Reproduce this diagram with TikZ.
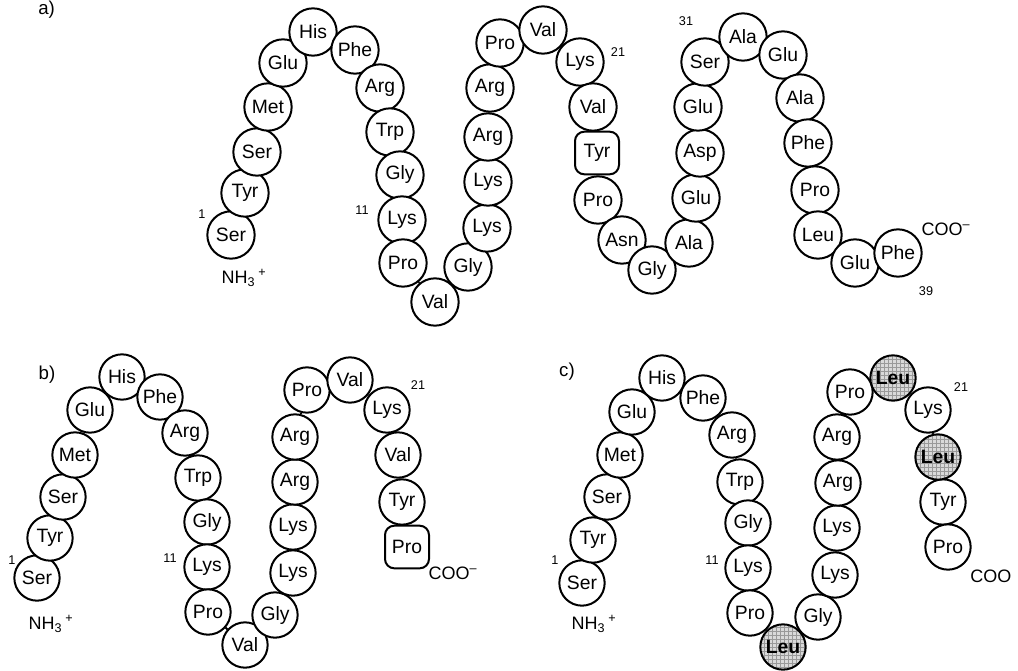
\documentclass[tikz,border=0pt]{standalone}
\usepackage{fontspec}
\setmainfont{Liberation Sans}
\usetikzlibrary{patterns,backgrounds}
\begin{document}
\begin{tikzpicture}[x=0.75pt,y=-0.75pt,
  res/.style={circle,draw,line width=1.5pt,fill=white,inner sep=0pt,minimum size=35.5pt,font=\fontsize{14.5}{14.5}\selectfont},
  resb/.style={res,minimum size=34pt},
  boxres/.style={rectangle,rounded corners=7pt,draw,line width=1.5pt,fill=white,inner sep=0pt,minimum width=33pt,minimum height=32pt,font=\fontsize{14.5}{14.5}\selectfont},
  mut/.style={resb,preaction={fill=gray!30},pattern=grid,pattern color=gray!80,font=\fontsize{14.5}{14.5}\selectfont\bfseries},
  num/.style={font=\fontsize{9.5}{9.5}\selectfont,inner sep=0pt},
  term/.style={font=\fontsize{13.5}{13.5}\selectfont,inner sep=0pt},
  plabel/.style={font=\fontsize{14}{14}\selectfont,inner sep=0pt},
  chain/.style={line width=1.5pt}
]
\useasboundingbox (0,0) rectangle (1018,671);

% ---------- panel a ----------
\node[plabel,anchor=north west] (la) at (38,1) {a)};
\foreach \n/\x/\y/\t in {1/231/235/Ser,2/245/193/Tyr,3/257/152/Ser,4/268/107/Met,5/283/63/Glu,
  6/313/32/His,7/355/50/Phe,8/380/88/Arg,9/390/132/Trp,10/400/175/Gly,11/402/220/Lys,
  12/403/263/Pro,13/435/302/Val,14/468/267/Gly,15/487/228/Lys,16/488/182/Lys,17/488/137/Arg,
  18/490/88/Arg,19/500/43/Pro,20/543/30/Val,21/580/62/Lys,22/593/107/Val,
  24/598/200/Pro,25/622/240/Asn,26/652/270/Gly,27/689/243/Ala,28/696/198/Glu,29/700/153/Asp,
  30/698/107/Glu,31/705/62/Ser,32/743/37/Ala,33/783/55/Glu,34/800/98/Ala,35/808/143/Phe,
  36/815/190/Pro,37/818/235/Leu,38/855/263/Glu,39/898/253/Phe}
  {\node[res] (a\n) at (\x,\y) {\t};}
\node[boxres] (a23) at (597,153) {Tyr};
\begin{scope}[on background layer]
  \foreach \i [count=\j from 2] in {1,...,38} {\draw[chain] (a\i) -- (a\j);}
\end{scope}
\node[num] (an1) at (202,214) {1};
\node[num] (an11) at (362,210) {11};
\node[num] (an21) at (618,52) {21};
\node[num] (an31) at (686,21) {31};
\node[num] (an39) at (926,291) {39};
\node[term] (anh) at (244,278) {NH\textsubscript{3}\,\textsuperscript{+}};
\node[term] (acoo) at (946,229) {COO\textsuperscript{\textendash}};

% ---------- panel b ----------
\node[plabel] (lb) at (47,375) {b)};
\foreach \n/\x/\y/\t in {1/37/578/Ser,2/50/538/Tyr,3/63/497/Ser,4/75/455/Met,5/90/410/Glu,
  6/122/377/His,7/160/397/Phe,8/185/433/Arg,9/198/478/Trp,10/207/522/Gly,11/207/567/Lys,
  12/208/612/Pro,13/245/645/Val,14/275/615/Gly,15/293/573/Lys,16/293/527/Lys,17/295/482/Arg,
  18/295/437/Arg,19/307/390/Pro,20/350/380/Val,21/387/410/Lys,22/398/455/Val,23/402/502/Tyr}
  {\node[resb] (b\n) at (\x,\y) {\t};}
\node[boxres] (b24) at (407,547) {Pro};
\begin{scope}[on background layer]
  \foreach \i [count=\j from 2] in {1,...,23} {\draw[chain] (b\i) -- (b\j);}
\end{scope}
\node[num] (bn1) at (12,560) {1};
\node[num] (bn11) at (170,558) {11};
\node[num] (bn21) at (418,385) {21};
\node[term] (bnh) at (51,624) {NH\textsubscript{3}\,\textsuperscript{+}};
\node[term] (bcoo) at (453,573) {COO\textsuperscript{\textendash}};

% ---------- panel c ----------
\node[plabel] (lc) at (567,372) {c)};
\foreach \n/\x/\y/\t in {1/582/583/Ser,2/593/540/Tyr,3/607/497/Ser,4/620/455/Met,5/632/412/Glu,
  6/662/378/His,7/703/398/Phe,8/732/435/Arg,9/740/482/Trp,10/748/523/Gly,11/748/568/Lys,
  12/750/613/Pro,14/818/617/Gly,15/835/575/Lys,16/837/528/Lys,17/838/483/Arg,
  18/837/437/Arg,19/850/392/Pro,21/928/410/Lys,23/943/502/Tyr,24/948/547/Pro}
  {\node[resb] (c\n) at (\x,\y) {\t};}
\foreach \n/\x/\y in {13/783/647,20/893/378,22/938/457}
  {\node[mut] (c\n) at (\x,\y) {Leu};}
\begin{scope}[on background layer]
  \foreach \i [count=\j from 2] in {1,...,23} {\draw[chain] (c\i) -- (c\j);}
\end{scope}
\node[num] (cn1) at (555,560) {1};
\node[num] (cn11) at (712,560) {11};
\node[num] (cn21) at (961,387) {21};
\node[term] (cnh) at (594,624) {NH\textsubscript{3}\,\textsuperscript{+}};
\node[term,anchor=west] (ccoo) at (970,576) {COO};
\end{tikzpicture}
\end{document}
